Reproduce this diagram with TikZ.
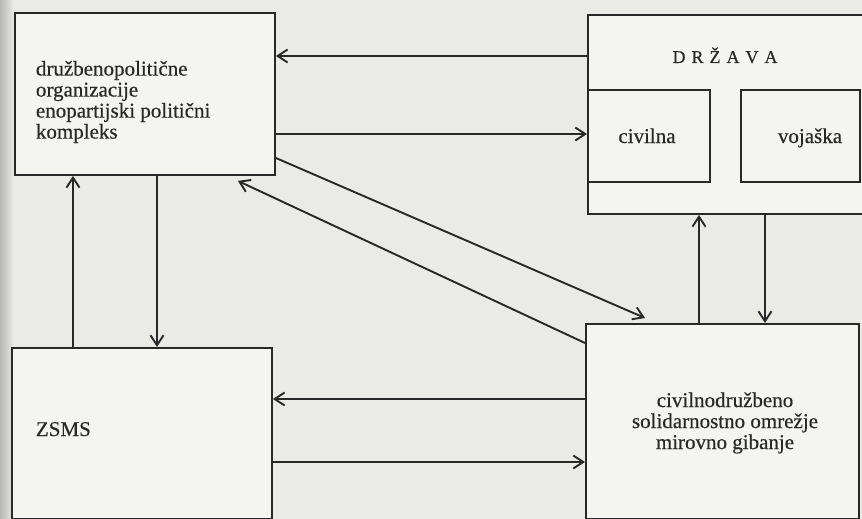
\documentclass[tikz,border=0pt]{standalone}
\usepackage{fontspec}
\setmainfont{Liberation Serif}[FakeBold=0.4]
\usetikzlibrary{arrows.meta,calc,positioning}
\definecolor{paper}{RGB}{234,234,231}
\definecolor{boxfill}{RGB}{244,244,241}
\definecolor{ink}{RGB}{40,40,40}

\begin{document}
\begin{tikzpicture}
  [
  x=1pt, y=-1pt,
  font=\fontsize{21}{21}\selectfont, line width=1.9pt, draw=ink,
  >={Straight Barb[length=10pt,width=13pt]},
  box/.style={rectangle, draw=ink, fill=boxfill, inner sep=0pt, anchor=north west},
  txt/.style={inner sep=0pt, text=ink},
  ]
  \useasboundingbox (0,0) rectangle (862,519);
  \fill[paper] (0,0) rectangle (862,519);
  \shade[left color=gray!55, right color=paper] (0,0) rectangle (14,519);
  \clip (0,0) rectangle (862,519);

  % boxes
  \node[box, minimum width=260pt, minimum height=162pt] (dpo) at (14,12) {};
  \node[box, minimum width=300pt, minimum height=199pt] (drzava) at (587,14) {};
  \node[box, minimum width=122pt, minimum height=92pt] (civilna) at (587,89) {};
  \node[box, minimum width=119pt, minimum height=92pt] (vojaska) at (740,89) {};
  \node[box, minimum width=260pt, minimum height=171pt] (zsms) at (11,347) {};
  \node[box, minimum width=273pt, minimum height=195pt] (omrezje) at (585,323) {};

  % texts
  \node[txt, align=left, anchor=north west] (dpotext) at (35,60)
    {družbenopolitične\\organizacije\\enopartijski politični\\kompleks};
  \node[txt, anchor=base, font=\fontsize{18}{18}\selectfont] (drzavatext) at (725,63)
    {D\kern6pt R\kern6pt Ž\kern6pt A\kern6pt V\kern6pt A};
  \node[txt, anchor=base] (civilnatext) at (647,143) {civilna};
  \node[txt, anchor=base] (vojaskatext) at (810,143) {vojaška};
  \node[txt, anchor=base west] (zsmstext) at (35,436) {ZSMS};
  \node[txt, align=center] (omrezjetext) at (725,423)
    {civilnodružbeno\\solidarnostno omrežje\\mirovno gibanje};

  % connectors
  \draw[->] (drzava.west |- 0,56) -- (dpo.east |- 0,56);
  \draw[->] (dpo.east |- 0,134) -- (civilna.west |- 0,134);
  \draw[->] (dpo.east |- 0,158) -- ($(omrezje.north west)+(60,-5)$);
  \draw[->] (omrezje.west |- 0,343) -- ($(dpo.south east)+(-38,5)$);
  \draw[->] (zsms.north -| 73,0) -- (dpo.south -| 73,0);
  \draw[->] (dpo.south -| 157,0) -- (zsms.north -| 157,0);
  \draw[->] (omrezje.west |- 0,399) -- (zsms.east |- 0,399);
  \draw[->] (zsms.east |- 0,462) -- (omrezje.west |- 0,462);
  \draw[->] (omrezje.north -| 699,0) -- (drzava.south -| 699,0);
  \draw[->] (drzava.south -| 765,0) -- (omrezje.north -| 765,0);

\end{tikzpicture}
\end{document}
